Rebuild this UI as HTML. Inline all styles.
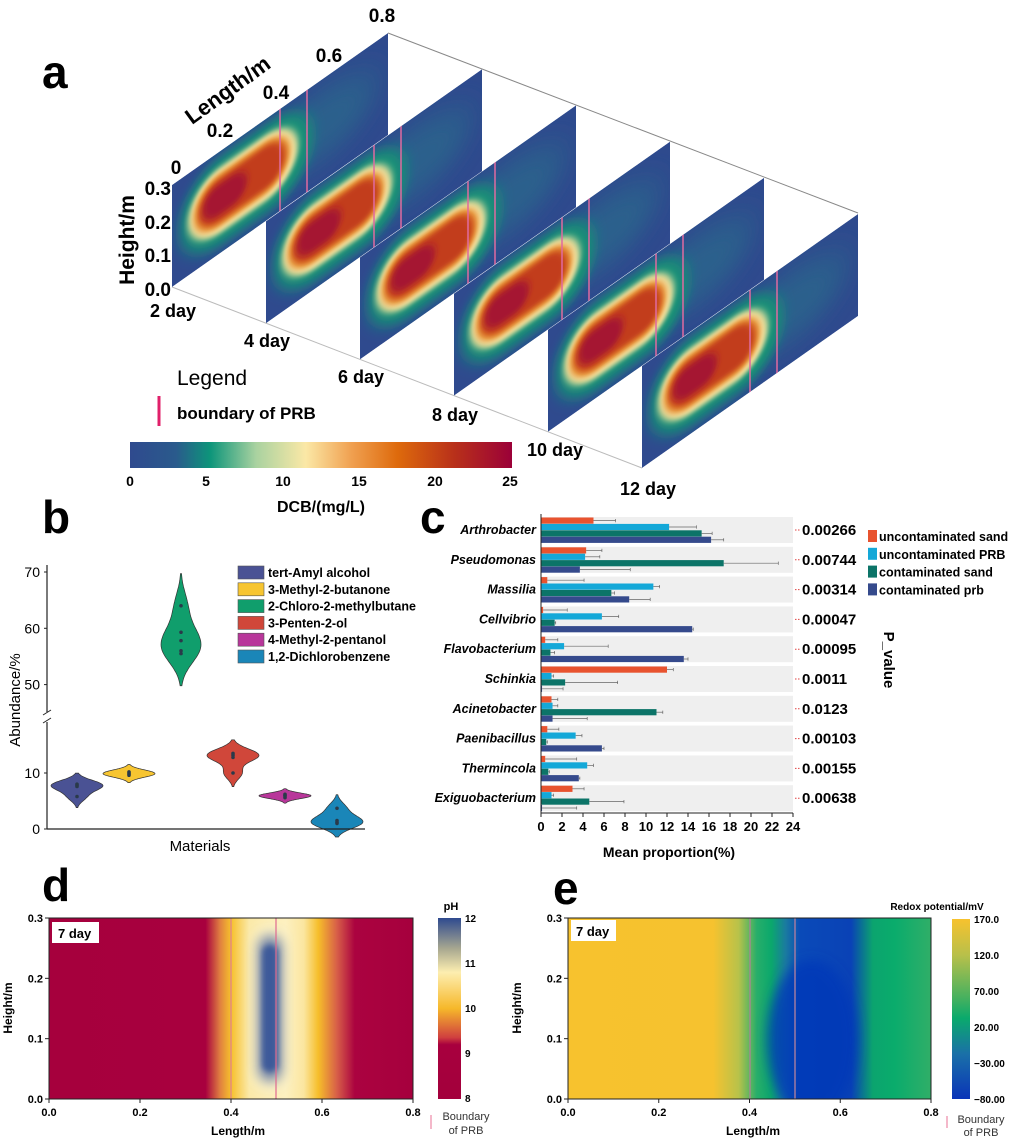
<!DOCTYPE html>
<html><head><meta charset="utf-8">
<style>
html,body{margin:0;padding:0;background:#fff;}
svg{display:block;font-family:"Liberation Sans",Arial,sans-serif;}
.b{font-weight:bold;}
</style></head>
<body>
<svg id="fig" width="1026" height="1139" viewBox="0 0 1026 1139" xmlns="http://www.w3.org/2000/svg">
<defs>
  <linearGradient id="dcbBar" x1="0" x2="1" y1="0" y2="0">
    <stop offset="0" stop-color="#2f4a8e"/><stop offset="0.12" stop-color="#2a5a8c"/>
    <stop offset="0.21" stop-color="#0d957a"/><stop offset="0.33" stop-color="#a9d2a0"/>
    <stop offset="0.46" stop-color="#fbe8a6"/><stop offset="0.58" stop-color="#f0a050"/>
    <stop offset="0.7" stop-color="#de6a0c"/><stop offset="0.85" stop-color="#b8301a"/>
    <stop offset="1" stop-color="#9b0038"/>
  </linearGradient>
  <filter id="blurA" x="-50%" y="-50%" width="200%" height="200%"><feGaussianBlur stdDeviation="6"/></filter>
  <filter id="blurB" x="-50%" y="-50%" width="200%" height="200%"><feGaussianBlur stdDeviation="3"/></filter>
  <filter id="blurW" x="-50%" y="-50%" width="200%" height="200%"><feGaussianBlur stdDeviation="14"/></filter>
  <filter id="blurD" x="-50%" y="-50%" width="200%" height="200%"><feGaussianBlur stdDeviation="6"/></filter>
  <clipPath id="sliceClip"><rect x="0" y="0" width="216" height="102"/></clipPath>
  <clipPath id="clipD"><rect x="49" y="918" width="364" height="181"/></clipPath>
  <clipPath id="clipE"><rect x="568" y="918" width="363" height="181"/></clipPath>
  <g id="slice">
    <g clip-path="url(#sliceClip)">
      <rect x="0" y="0" width="216" height="102" fill="#2f4a8e"/>
      <ellipse cx="150" cy="45" rx="55" ry="35" fill="#2b6a8c" filter="url(#blurW)" opacity="0.7"/>
      <rect x="8" y="6" width="132" height="88" rx="42" fill="#159276" filter="url(#blurA)"/>
      <rect x="16" y="16" width="110" height="66" rx="33" fill="#f5e4a2" filter="url(#blurB)"/>
      <rect x="22" y="22" width="96" height="53" rx="26" fill="#e68a2c" filter="url(#blurB)"/>
      <rect x="27" y="27" width="86" height="43" rx="21" fill="#c23e1a" filter="url(#blurB)"/>
      <rect x="31" y="33" width="44" height="30" rx="15" fill="#a51232" filter="url(#blurB)"/>
    </g>
    <line x1="108" y1="0" x2="108" y2="102" stroke="#e06aa0" stroke-width="1.5"/>
    <line x1="135" y1="0" x2="135" y2="102" stroke="#e06aa0" stroke-width="1.5"/>
  </g>
  <linearGradient id="pHgrad" x1="0" x2="1" y1="0" y2="0">
    <stop offset="0" stop-color="#a6003d"/><stop offset="0.43" stop-color="#a8003e"/>
    <stop offset="0.47" stop-color="#e08040"/><stop offset="0.5" stop-color="#f6c02b"/>
    <stop offset="0.55" stop-color="#fbe9a8"/><stop offset="0.65" stop-color="#fdf0c0"/>
    <stop offset="0.7" stop-color="#fbe6a0"/><stop offset="0.74" stop-color="#f6be2a"/>
    <stop offset="0.79" stop-color="#d86048"/><stop offset="0.84" stop-color="#ab0340"/>
    <stop offset="1" stop-color="#a6003d"/>
  </linearGradient>
  <linearGradient id="pHbar" x1="0" x2="0" y1="0" y2="1">
    <stop offset="0" stop-color="#2e4a8f"/><stop offset="0.17" stop-color="#a8a890"/>
    <stop offset="0.3" stop-color="#fdeeb0"/><stop offset="0.5" stop-color="#f6b82a"/>
    <stop offset="0.66" stop-color="#d0403f"/><stop offset="0.7" stop-color="#a8003e"/>
    <stop offset="1" stop-color="#a3003c"/>
  </linearGradient>
  <linearGradient id="ehGrad" x1="0" x2="1" y1="0" y2="0">
    <stop offset="0" stop-color="#f7c22e"/><stop offset="0.4" stop-color="#f6c22f"/>
    <stop offset="0.47" stop-color="#b8c24a"/><stop offset="0.52" stop-color="#28ae6a"/>
    <stop offset="0.56" stop-color="#0ba86c"/><stop offset="0.6" stop-color="#1a7aa0"/>
    <stop offset="0.64" stop-color="#0a4ab8"/><stop offset="0.78" stop-color="#0a42b6"/>
    <stop offset="0.84" stop-color="#0ba46e"/><stop offset="0.9" stop-color="#0aac6c"/>
    <stop offset="1" stop-color="#30ae68"/>
  </linearGradient>
  <linearGradient id="ehBar" x1="0" x2="0" y1="0" y2="1">
    <stop offset="0" stop-color="#f7c22e"/><stop offset="0.2" stop-color="#b8c04a"/>
    <stop offset="0.45" stop-color="#40b060"/><stop offset="0.55" stop-color="#0aaa6c"/>
    <stop offset="0.75" stop-color="#1a70a8"/><stop offset="1" stop-color="#0a34b8"/>
  </linearGradient>
</defs>

<!-- ============ PANEL A ============ -->
<g id="panel-a">
  <text x="42" y="88" font-size="46" class="b">a</text>
  <line x1="388" y1="33" x2="858" y2="213" stroke="#888" stroke-width="1"/>
  <line x1="172" y1="287" x2="642" y2="468" stroke="#bbb" stroke-width="1"/>
  <g id="slices"></g>
  <g font-size="19" class="b" text-anchor="end">
    <text x="171" y="195">0.3</text><text x="171" y="229">0.2</text>
    <text x="171" y="262">0.1</text><text x="171" y="296">0.0</text>
  </g>
  <text x="134" y="240" font-size="21" class="b" text-anchor="middle" transform="rotate(-90 134 240)">Height/m</text>
  <g font-size="19" class="b" text-anchor="middle">
    <text x="176" y="174">0</text><text x="220" y="137">0.2</text>
    <text x="276" y="99">0.4</text><text x="329" y="62">0.6</text><text x="382" y="22">0.8</text>
  </g>
  <text x="232" y="96" font-size="22" class="b" text-anchor="middle" transform="rotate(-36 232 96)">Length/m</text>
  <g font-size="18" class="b">
    <text x="150" y="317">2 day</text><text x="244" y="347">4 day</text>
    <text x="338" y="383">6 day</text><text x="432" y="421">8 day</text>
    <text x="527" y="456">10 day</text><text x="620" y="495">12 day</text>
  </g>
  <text x="177" y="385" font-size="21">Legend</text>
  <line x1="159" y1="396" x2="159" y2="426" stroke="#e0206a" stroke-width="3"/>
  <text x="177" y="419" font-size="17" class="b">boundary of PRB</text>
  <rect x="130" y="442" width="382" height="26" fill="url(#dcbBar)"/>
  <g font-size="14" class="b" text-anchor="middle">
    <text x="130" y="486">0</text><text x="206" y="486">5</text><text x="283" y="486">10</text>
    <text x="359" y="486">15</text><text x="435" y="486">20</text><text x="510" y="486">25</text>
  </g>
  <text x="321" y="512" font-size="16" class="b" text-anchor="middle">DCB/(mg/L)</text>
</g>

<!-- ============ PANEL B ============ -->
<g id="panel-b">
  <text x="42" y="533" font-size="46" class="b">b</text>
  <g id="violins"></g>
  <line x1="47" y1="565" x2="47" y2="712" stroke="#222" stroke-width="1.2"/>
  <line x1="47" y1="722" x2="47" y2="829" stroke="#222" stroke-width="1.2"/>
  <line x1="43" y1="715" x2="51" y2="710" stroke="#222"/><line x1="43" y1="723" x2="51" y2="718" stroke="#222"/>
  <line x1="47" y1="829" x2="365" y2="829" stroke="#222" stroke-width="1.2"/>
  <g id="bTicks" font-size="14" text-anchor="end"></g>
  <text x="20" y="700" font-size="15" text-anchor="middle" transform="rotate(-90 20 700)">Abundance/%</text>
  <text x="200" y="851" font-size="15" text-anchor="middle">Materials</text>
  <g id="bLegend" font-size="12.5" class="b"></g>
</g>

<!-- ============ PANEL C ============ -->
<g id="panel-c">
  <text x="420" y="533" font-size="46" class="b">c</text>
  <g id="cRows"></g>
  <line x1="541" y1="514" x2="541" y2="813" stroke="#222" stroke-width="1"/>
  <line x1="541" y1="813" x2="793" y2="813" stroke="#222" stroke-width="1"/>
  <g id="cTicks" font-size="13" class="b" text-anchor="middle"></g>
  <text x="669" y="857" font-size="14" class="b" text-anchor="middle">Mean proportion(%)</text>
  <text x="884" y="660" font-size="15" class="b" text-anchor="middle" transform="rotate(90 884 660)">P_value</text>
  <g id="cLegend" font-size="12.5" class="b"></g>
</g>

<!-- ============ PANEL D ============ -->
<g id="panel-d">
  <text x="42" y="901" font-size="46" class="b">d</text>
  <g clip-path="url(#clipD)">
    <rect x="49" y="918" width="364" height="181" fill="url(#pHgrad)"/>
    <rect x="253" y="925" width="34" height="167" rx="17" fill="#fdf3c8" filter="url(#blurD)"/>
    <rect x="258" y="935" width="24" height="147" rx="12" fill="#7888a8" filter="url(#blurD)"/>
    <rect x="262" y="945" width="16" height="127" rx="8" fill="#3e5a9a" filter="url(#blurB)"/>
  </g>
  <line x1="231" y1="918" x2="231" y2="1099" stroke="#e08090" stroke-width="1.2"/>
  <line x1="276" y1="918" x2="276" y2="1099" stroke="#e06a90" stroke-width="1.2"/>
  <rect x="49" y="918" width="364" height="181" fill="none" stroke="#222" stroke-width="1"/>
  <rect x="52" y="922" width="47" height="21" fill="#fff"/>
  <text x="58" y="938" font-size="13" class="b">7 day</text>
  <g id="dTicks" font-size="11" class="b"></g>
  <text x="12" y="1008" font-size="12" class="b" text-anchor="middle" transform="rotate(-90 12 1008)">Height/m</text>
  <text x="238" y="1135" font-size="12" class="b" text-anchor="middle">Length/m</text>
  <rect x="438" y="918" width="23" height="181" fill="url(#pHbar)"/>
  <text x="451" y="910" font-size="11" class="b" text-anchor="middle">pH</text>
  <g font-size="10" class="b">
    <text x="465" y="922">12</text><text x="465" y="967">11</text><text x="465" y="1012">10</text>
    <text x="465" y="1057">9</text><text x="465" y="1102">8</text>
  </g>
  <line x1="431" y1="1115" x2="431" y2="1129" stroke="#f0a0b8" stroke-width="1.5"/>
  <text x="466" y="1120" font-size="11" text-anchor="middle" fill="#333">Boundary</text>
  <text x="466" y="1134" font-size="11" text-anchor="middle" fill="#333">of PRB</text>
</g>

<!-- ============ PANEL E ============ -->
<g id="panel-e">
  <text x="553" y="904" font-size="46" class="b">e</text>
  <g clip-path="url(#clipE)">
    <rect x="568" y="918" width="363" height="181" fill="url(#ehGrad)"/>
    <ellipse cx="812" cy="1040" rx="45" ry="80" fill="#0638b8" filter="url(#blurD)" opacity="0.8"/>
  </g>
  <line x1="750" y1="918" x2="750" y2="1099" stroke="#a08a90" stroke-width="1.5"/>
  <line x1="795" y1="918" x2="795" y2="1099" stroke="#a07aa0" stroke-width="1.5"/>
  <rect x="568" y="918" width="363" height="181" fill="none" stroke="#222" stroke-width="1"/>
  <rect x="571" y="920" width="45" height="21" fill="#fff"/>
  <text x="576" y="936" font-size="13" class="b">7 day</text>
  <g id="eTicks" font-size="11" class="b"></g>
  <text x="521" y="1008" font-size="12" class="b" text-anchor="middle" transform="rotate(-90 521 1008)">Height/m</text>
  <text x="753" y="1135" font-size="12" class="b" text-anchor="middle">Length/m</text>
  <rect x="952" y="919" width="18" height="180" fill="url(#ehBar)"/>
  <text x="937" y="910" font-size="10" class="b" text-anchor="middle">Redox potential/mV</text>
  <g font-size="10" class="b">
    <text x="974" y="923">170.0</text><text x="974" y="959">120.0</text><text x="974" y="995">70.00</text>
    <text x="974" y="1031">20.00</text><text x="974" y="1067">−30.00</text><text x="974" y="1103">−80.00</text>
  </g>
  <line x1="947" y1="1116" x2="947" y2="1128" stroke="#f0a0b8" stroke-width="1.5"/>
  <text x="981" y="1123" font-size="11" text-anchor="middle" fill="#333">Boundary</text>
  <text x="981" y="1136" font-size="11" text-anchor="middle" fill="#333">of PRB</text>
</g>

<script>
var NS="http://www.w3.org/2000/svg";
function mk(tag,attrs,parent){var e=document.createElementNS(NS,tag);for(var k in attrs)e.setAttribute(k,attrs[k]);if(parent)parent.appendChild(e);return e;}

/* ---- panel a slices ---- */
var days=["2 day","4 day","6 day","8 day","10 day","12 day"];
var sg=document.getElementById('slices');
for(var i=days.length-1;i>=0;i--){
  var u=mk('use',{href:'#slice',transform:'matrix(1,-0.7037,0,1,'+(172+94*i)+','+(185+36.2*i)+')'},sg);
  
  
}

/* ---- panel b violins ---- */
var materials=["tert-Amyl alcohol","3-Methyl-2-butanone","2-Chloro-2-methylbutane","3-Penten-2-ol","4-Methyl-2-pentanol","1,2-Dichlorobenzene"];
var matColors=["#4a5294","#f7c531","#109e6c","#d0473a","#b8369a","#1a86b8"];
var samples=[[7.8,7.6,8.0,5.8],[9.8,10.0,9.6,10.2],[64,59.3,57.8,56,55.5],[13.2,12.8,13.5,10],[6.2,5.9,6.0,5.6],[3.7,1.5,1.2,1.0]];
var bandwidth=[0.9,0.6,2.6,1.1,0.45,1.1];
var lowTicks=[0,10];var highTicks=[50,60,70];
function yB(v){return v<30?829-v*5.6:572+(70-v)*5.63;}
function xB(i){return 77+i*52;}
var vg=document.getElementById('violins');
materials.forEach(function(m,i){
  var s=samples[i],bw=bandwidth[i];
  var lo=Math.min.apply(null,s)-2.2*bw,hi=Math.max.apply(null,s)+2.2*bw;
  var pts=[],dens=[],mx=0,N=60;
  for(var k=0;k<=N;k++){var v=lo+(hi-lo)*k/N,d=0;s.forEach(function(p){d+=Math.exp(-0.5*Math.pow((v-p)/bw,2));});dens.push(d);pts.push(v);if(d>mx)mx=d;}
  var half=i==2?20:26,cx=xB(i),dpath="";
  for(var k=0;k<=N;k++){dpath+=(k?"L":"M")+(cx+dens[k]/mx*half).toFixed(1)+","+yB(pts[k]).toFixed(1);}
  for(var k=N;k>=0;k--){dpath+="L"+(cx-dens[k]/mx*half).toFixed(1)+","+yB(pts[k]).toFixed(1);}
  var p=mk('path',{d:dpath+"Z",fill:matColors[i],stroke:"#333","stroke-width":0.7},vg);
  
  
  s.forEach(function(v){var c=mk('circle',{cx:cx,cy:yB(v),r:1.8,fill:"#2a3a4a"},vg);
    
    });
});
var bt=document.getElementById('bTicks');
lowTicks.concat(highTicks).forEach(function(t){
  var y=yB(t);mk('line',{x1:44,y1:y,x2:47,y2:y,stroke:"#222"},bt);
  var tx=mk('text',{x:40,y:y+5},bt);tx.textContent=t;
  
  
});
var bl=document.getElementById('bLegend');
materials.forEach(function(m,i){
  var y=566+i*16.8;
  var r=mk('rect',{x:238,y:y,width:26,height:13,fill:matColors[i],stroke:"#555","stroke-width":0.6},bl);
  
  
  var t=mk('text',{x:268,y:y+11},bl);t.textContent=m;
  
  
});

/* ---- panel c bars ---- */
var genera=["Arthrobacter","Pseudomonas","Massilia","Cellvibrio","Flavobacterium","Schinkia","Acinetobacter","Paenibacillus","Thermincola","Exiguobacterium"];
var pvals=["0.00266","0.00744","0.00314","0.00047","0.00095","0.0011","0.0123","0.00103","0.00155","0.00638"];
var groups=["uncontaminated sand","uncontaminated PRB","contaminated sand","contaminated prb"];
var gColors=["#e8532f","#14a8d8","#0c7468","#354a8c"];
var uSand=[5.0,4.3,0.6,0.2,0.4,12.0,1.0,0.6,0.4,3.0];
var uPRB=[12.2,4.2,10.7,5.8,2.2,1.0,1.1,3.3,4.4,1.0];
var cSand=[15.3,17.4,6.7,1.3,0.9,2.3,11.0,0.5,0.7,4.6];
var cPrb=[16.2,3.7,8.4,14.4,13.6,0.1,1.1,5.8,3.6,0.1];
var uSandErr=[2.1,1.5,3.5,2.3,1.2,0.6,0.6,1.1,3.0,1.1];
var uPRBErr=[2.6,1.4,0.6,1.6,4.2,0.2,0.5,0.6,0.6,0.2];
var cSandErr=[1.0,5.2,0.3,0.1,0.4,5.0,0.6,0.1,0.1,3.3];
var cPrbErr=[1.2,4.8,2.0,0.1,0.4,2.0,3.3,0.2,0.1,3.3];
var xTicks=[0,2,4,6,8,10,12,14,16,18,20,22,24];
function xC(v){return 541+v*10.5;}
function rowY(i){return 516+i*29.8;}
var series=[uSand,uPRB,cSand,cPrb],errs=[uSandErr,uPRBErr,cSandErr,cPrbErr];
var cr=document.getElementById('cRows');
genera.forEach(function(g,i){
  var y0=rowY(i);
  var bg=mk('rect',{x:541,y:y0+1,width:252,height:26,fill:"#efefef"},cr);
  
  
  series.forEach(function(s,k){
    var by=y0+1.5+k*6.4;
    var r=mk('rect',{x:541,y:by,width:Math.max(0.5,xC(s[i])-541),height:6.2,fill:gColors[k]},cr);
    
    
    var ex=xC(s[i]+errs[k][i]);
    mk('line',{x1:xC(s[i]),y1:by+3.1,x2:ex,y2:by+3.1,stroke:"#666","stroke-width":0.7},cr);
    mk('line',{x1:ex,y1:by+1.5,x2:ex,y2:by+4.7,stroke:"#666","stroke-width":0.7},cr);
  });
  var t=mk('text',{x:536,y:y0+18,"font-size":12.5,"font-weight":"bold","font-style":"italic","text-anchor":"end"},cr);t.textContent=g;
  
  
  mk('line',{x1:795,y1:y0+14,x2:800,y2:y0+14,stroke:"#e04040","stroke-dasharray":"1.5,1.5"},cr);
  var p=mk('text',{x:802,y:y0+19,"font-size":15,"font-weight":"bold"},cr);p.textContent=pvals[i];
  
  
});
var ct=document.getElementById('cTicks');
xTicks.forEach(function(v){
  mk('line',{x1:xC(v),y1:813,x2:xC(v),y2:817,stroke:"#222"},ct);
  var t=mk('text',{x:xC(v),y:831},ct);t.textContent=v;
  
  
});
var cl=document.getElementById('cLegend');
groups.forEach(function(g,k){
  var y=530+k*17.8;
  var r=mk('rect',{x:868,y:y,width:9,height:12,fill:gColors[k]},cl);
  
  
  var t=mk('text',{x:879,y:y+11},cl);t.textContent=g;
  
  
});

/* ---- panels d/e axis ticks ---- */
var lenTicks=[0.0,0.2,0.4,0.6,0.8];var hTicks=[0.0,0.1,0.2,0.3];
function axes(id,x0,w,y0,h){
  var g=document.getElementById(id);
  lenTicks.forEach(function(v){var x=x0+v/0.8*w;mk('line',{x1:x,y1:y0+h,x2:x,y2:y0+h+4,stroke:"#222"},g);
    var t=mk('text',{x:x,y:y0+h+17,"text-anchor":"middle"},g);t.textContent=v.toFixed(1);
    
    });
  hTicks.forEach(function(v){var y=y0+h-v/0.3*h;mk('line',{x1:x0-4,y1:y,x2:x0,y2:y,stroke:"#222"},g);
    var t=mk('text',{x:x0-6,y:y+4,"text-anchor":"end"},g);t.textContent=v.toFixed(1);
    
    });
}
axes('dTicks',49,364,918,181);
axes('eTicks',568,363,918,181);
</script>
</svg>
</body></html>
